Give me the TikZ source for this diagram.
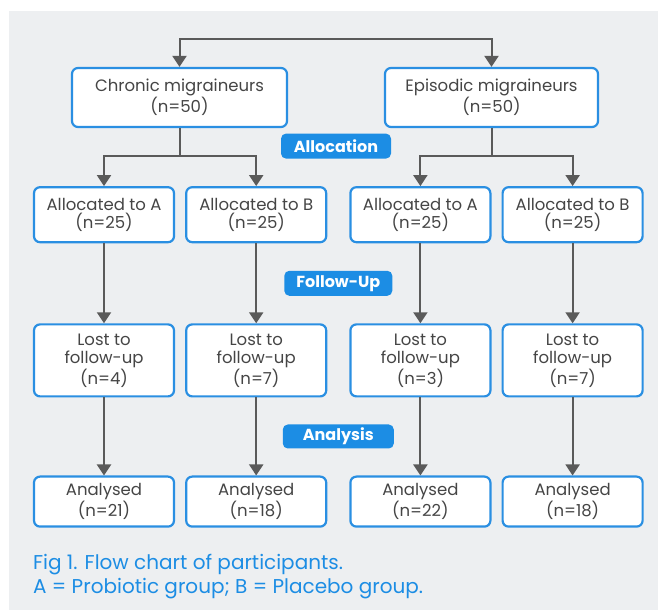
\documentclass[tikz,border=0pt]{standalone}
\usepackage{fontspec}
\setmainfont{Poppins}
\usetikzlibrary{arrows.meta, positioning, calc}
\definecolor{boxblue}{HTML}{2A8FE2}
\definecolor{tagblue}{HTML}{1C8DE4}
\definecolor{arrowgray}{HTML}{5A5A5A}
\definecolor{textgray}{HTML}{454545}
\definecolor{panelbg}{HTML}{EDEFF1}

\begin{document}
\begin{tikzpicture}[
  x=1pt, y=1pt,
  box/.style={draw=boxblue, line width=2.2pt, fill=white, rounded corners=6pt,
              minimum width=140pt, font=\fontsize{16.5}{18.5}\selectfont,
              text=textgray, align=center, inner sep=2pt},
  tag/.style={fill=tagblue, rounded corners=5pt, minimum width=110pt,
              minimum height=25pt, text=white,
              font=\fontsize{16}{18}\selectfont\bfseries},
  arr/.style={draw=arrowgray, line width=2pt, -{Triangle[width=14pt,length=11pt]}},
  link/.style={draw=arrowgray, line width=2pt},
  caption/.style={text=tagblue, align=left, inner sep=0pt,
                  font=\fontsize{20}{24}\selectfont},
]
  \useasboundingbox (0,0) rectangle (658,610);
  \fill[panelbg] (9,0) rectangle (658,599);

  % Groups
  \node[box, minimum width=215pt, minimum height=59pt] (chronic) at (179.5,512.5)
    {Chronic migraineurs\\(n=50)};
  \node[box, minimum width=213pt, minimum height=59pt] (episodic) at (491.5,512.5)
    {Episodic migraineurs\\(n=50)};

  % Allocation
  \node[box, minimum height=55pt, below=58pt of chronic.south west,
        anchor=north west, xshift=-38pt] (ca) {Allocated to A\\(n=25)};
  \node[box, minimum height=55pt, right=10pt of ca] (cb) {Allocated to B\\(n=25)};
  \node[box, minimum height=55pt, right=22pt of cb] (ea) {Allocated to A\\(n=25)};
  \node[box, minimum height=55pt, right=10pt of ea] (eb) {Allocated to B\\(n=25)};

  % Follow-up
  \node[box, minimum height=72pt, below=80pt of ca] (cla) {Lost to\\follow-up\\(n=4)};
  \node[box, minimum height=72pt, below=80pt of cb] (clb) {Lost to\\follow-up\\(n=7)};
  \node[box, minimum height=72pt, below=80pt of ea] (ela) {Lost to\\follow-up\\(n=3)};
  \node[box, minimum height=72pt, below=80pt of eb] (elb) {Lost to\\follow-up\\(n=7)};

  % Analysis
  \node[box, minimum height=50pt, below=78pt of cla] (cna) {Analysed\\(n=21)};
  \node[box, minimum height=50pt, below=78pt of clb] (cnb) {Analysed\\(n=18)};
  \node[box, minimum height=50pt, below=78pt of ela] (ena) {Analysed\\(n=22)};
  \node[box, minimum height=50pt, below=78pt of elb] (enb) {Analysed\\(n=18)};

  % Stage tags
  \node[tag, yshift=-18pt] (allocation)
    at ($(chronic.south east)!0.5!(episodic.south west)$) {Allocation};
  \node[tag, minimum width=108pt] (followup)
    at ($(cb.south east)!0.5!(ela.north west)$) {Follow-Up};
  \node[tag, minimum width=111pt, minimum height=24pt] (analysis)
    at ($(clb.south east)!0.5!(ena.north west)$) {Analysis};

  % Connectors
  \draw[arr, {Triangle[width=14pt,length=11pt]}-{Triangle[width=14pt,length=11pt]}]
    (chronic.north) -- ++(0,28) -| (episodic.north);
  \draw[link] (chronic.south) -- ++(0,-28) coordinate (csplit);
  \draw[arr] (csplit) -| (ca.north);
  \draw[arr] (csplit) -| (cb.north);
  \draw[link] (episodic.south) -- ++(0,-28) coordinate (esplit);
  \draw[arr] (esplit) -| (ea.north);
  \draw[arr] (esplit) -| (eb.north);
  \foreach \a/\b in {ca/cla, cb/clb, ea/ela, eb/elb, cla/cna, clb/cnb, ela/ena, elb/enb}
    \draw[arr] (\a.south) -- (\b.north);

  % Caption
  \node[caption, below=26pt of cna.south west, anchor=north west] (cap)
    {Fig 1. Flow chart of participants.\\A = Probiotic group; B = Placebo group.};
\end{tikzpicture}
\end{document}
